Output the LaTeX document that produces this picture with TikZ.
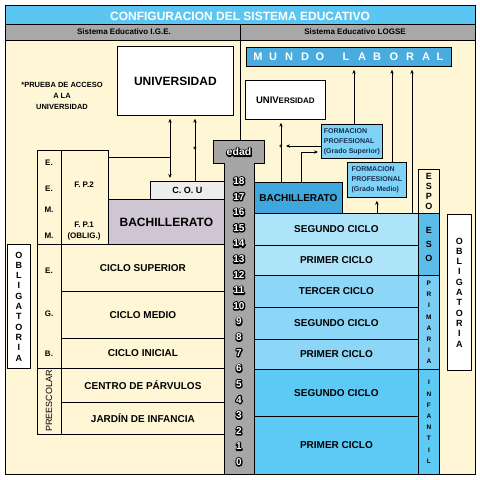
\documentclass[tikz,border=0pt]{standalone}
\usepackage{fontspec}
\setmainfont{Liberation Sans}
\usetikzlibrary{arrows.meta}

\definecolor{titleblue}{HTML}{5CC6F2}
\definecolor{headgray}{HTML}{A8A8A8}
\definecolor{cream}{HTML}{FFF6D5}
\definecolor{edadgray}{HTML}{A6A6A6}
\definecolor{bachgray}{HTML}{CEC6D2}
\definecolor{cougray}{HTML}{EDEDED}
\definecolor{mundoblue}{HTML}{4AABDE}
\definecolor{bachblue}{HTML}{3FA7DB}
\definecolor{fpblue}{HTML}{7FD3F6}
\definecolor{fptext}{HTML}{1A2F55}
\definecolor{esoblue}{HTML}{AEE4FA}
\definecolor{priblue}{HTML}{8CD6F7}
\definecolor{infblue}{HTML}{5DCAF6}
\definecolor{esoside}{HTML}{5DBDE9}
\definecolor{priside}{HTML}{7ACEF3}

% white text with a black outline
\newcommand\outl[1]{\rlap{\special{pdf:literal direct 0 G 0 g 2 Tr 2.6 w 1 j}#1\special{pdf:literal direct 0 Tr}}{\color{white}#1}}

\begin{document}
\begin{tikzpicture}[x=1pt,y=-1pt,
    cell/.style={draw, line width=0.8pt, anchor=north west, inner sep=0pt,
      align=center, font=\bfseries\fontsize{10}{12}\selectfont},
    big/.style={font=\bfseries\fontsize{12}{14}\selectfont},
    sm/.style={font=\bfseries\fontsize{8}{11}\selectfont, inner sep=0pt, align=center},
    vtxt/.style={font=\bfseries\fontsize{9}{10.3}\selectfont},
    tiny/.style={font=\bfseries\fontsize{6.5}{11.2}\selectfont},
    fptxt/.style={font=\bfseries\fontsize{7}{10}\selectfont, text=fptext, align=left},
    num/.style={font=\bfseries\fontsize{10}{12}\selectfont, inner sep=0pt},
    arr/.style={line width=0.6pt, shorten >=3pt, -{Stealth[length=4pt,width=3.4pt]}},
    arrtwo/.style={line width=0.6pt, shorten >=3pt, shorten <=3pt,
      {Stealth[length=4pt,width=3.4pt]}-{Stealth[length=4pt,width=3.4pt]}},
    ln/.style={line width=0.6pt}]
  \useasboundingbox (0,0) rectangle (480,480);

  % frame and headers
  \fill[cream] (5,40) rectangle (475,474);
  \fill[titleblue] (5,5) rectangle (475,24);
  \fill[headgray] (5,24) rectangle (475,40);
  \draw[line width=0.8pt] (5,24) -- (475,24) (5,40) -- (475,40);
  \draw[line width=0.8pt] (240,24) -- (240,140);
  \draw[line width=1pt] (5,5) rectangle (475,474);
  \node[big, text=white] (titulo) at (240,16) {CONFIGURACION DEL SISTEMA EDUCATIVO};
  \node[sm] (ige) at (124,32) {Sistema Educativo I.G.E.};
  \node[sm] (logse) at (355,32) {Sistema Educativo LOGSE};

  % Sistema I.G.E.
  \node[cell, big, fill=white, minimum width=116, minimum height=69] (uniL) at (117,46) {UNIVERSIDAD};
  \node[font=\bfseries\fontsize{7.5}{10.7}\selectfont, align=center] (prueba) at (62,96) {*PRUEBA DE ACCESO\\A LA\\UNIVERSIDAD};

  \node[cell, minimum width=24, minimum height=94] (eemm) at (37,150) {};
  \node[sm] (ee1) at (49,163) {E.};
  \node[sm] (ee2) at (49,189) {E.};
  \node[sm] (mm1) at (49,210) {M.};
  \node[sm] (mm2) at (49,236) {M.};
  \node[cell, minimum width=47, minimum height=94] (fp) at (61,150) {};
  \node[sm] (fp2) at (84,185) {F. P.2};
  \node[sm] (fp1) at (84,231) {F. P.1\\(OBLIG.)};
  \node[cell, big, fill=bachgray, minimum width=116, minimum height=45] (bachL) at (108,199) {BACHILLERATO};
  \node[cell, font=\bfseries\fontsize{9}{11}\selectfont, fill=cougray, minimum width=74, minimum height=18] (cou) at (150,181) {C. O. U};

  \node[cell, minimum width=24, minimum height=124] (egb) at (37,244) {};
  \node[sm] (egbe) at (49,271) {E.};
  \node[sm] (egbg) at (49,314) {G.};
  \node[sm] (egbb) at (49,354) {B.};
  \node[cell, minimum width=163, minimum height=47] (csup) at (61,244) {CICLO SUPERIOR};
  \node[cell, minimum width=163, minimum height=47] (cmed) at (61,291) {CICLO MEDIO};
  \node[cell, minimum width=163, minimum height=30] (cini) at (61,338) {CICLO INICIAL};
  \node[cell, minimum width=24, minimum height=66] (pre) at (37,368) {};
  \node[rotate=90, font=\fontsize{9}{10}\selectfont, inner sep=0pt] (pretxt) at (49,401) {PREESCOLAR};
  \node[cell, minimum width=163, minimum height=34] (cpar) at (61,368) {CENTRO DE PÁRVULOS};
  \node[cell, minimum width=163, minimum height=32] (jard) at (61,402) {JARDÍN DE INFANCIA};
  \node[cell, vtxt, fill=white, minimum width=23, minimum height=124] (oblL) at (7,244) {O\\B\\L\\I\\G\\A\\T\\O\\R\\I\\A};

  \coordinate (jL) at (170,157);
  \draw[arrtwo] (uniL.south -| jL) -- (cou.north -| jL);
  \draw[ln] (fp.east |- jL) -- (jL);
  \node[sm] (starL) at (195,150) {*};
  \draw[arr] (cou.north -| starL) -- (uniL.south -| starL);

  % edad
  \draw[fill=edadgray, line width=0.6pt] (213,140) -- (264,140) -- (264,163) -- (254,163)
    -- (254,474) -- (224,474) -- (224,163) -- (213,163) -- cycle;
  \node[num, font=\bfseries\fontsize{10.5}{12}\selectfont] (edad) at (239,152) {\outl{edad}};
  \foreach \n in {0,...,18}
    \node[num] (e\n) at (239,462-15.61*\n) {\outl{\n}};

  % Sistema LOGSE
  \node[cell, fill=mundoblue, minimum width=205, minimum height=19] (mundo) at (246,47) {};
  \foreach \l/\x in {M/258,U/273,N/289,D/305,O/320,L/346,A/362,B/377,O/394,R/410,A/426,L/440}
    \node[text=white, font=\bfseries\fontsize{11}{12}\selectfont] (ml\x) at (\x,57) {\l};
  \node[cell, font=\bfseries\fontsize{9.5}{11}\selectfont, fill=white, minimum width=80, minimum height=39] (uniR) at (245,80) {UNIV{\fontsize{8}{10}\selectfont ERSIDAD}};
  \node[cell, fptxt, fill=fpblue, minimum width=61, minimum height=34] (fpgs) at (321,124) {FORMACION\\PROFESIONAL\\(Grado Superior)};
  \node[cell, fptxt, fill=fpblue, minimum width=59, minimum height=35] (fpgm) at (347,162) {FORMACION\\PROFESIONAL\\(Grado Medio)};
  \node[cell, fill=bachblue, minimum width=88, minimum height=31] (bachR) at (254,182) {BACHILLERATO};

  \node[cell, fill=esoblue, minimum width=164, minimum height=32] (eso2) at (254,213) {SEGUNDO CICLO};
  \node[cell, fill=esoblue, minimum width=164, minimum height=30] (eso1) at (254,245) {PRIMER CICLO};
  \node[cell, fill=priblue, minimum width=164, minimum height=32] (pri3) at (254,275) {TERCER CICLO};
  \node[cell, fill=priblue, minimum width=164, minimum height=32] (pri2) at (254,307) {SEGUNDO CICLO};
  \node[cell, fill=priblue, minimum width=164, minimum height=30] (pri1) at (254,339) {PRIMER CICLO};
  \node[cell, fill=infblue, minimum width=164, minimum height=47] (inf2) at (254,369) {SEGUNDO CICLO};
  \node[cell, fill=infblue, minimum width=164, minimum height=58] (inf1) at (254,416) {PRIMER CICLO};

  \node[cell, vtxt, fill=cream, minimum width=21, minimum height=44] (espo) at (418,169) {E\\S\\P\\O};
  \node[cell, font=\bfseries\fontsize{9}{14}\selectfont, fill=esoside, minimum width=21, minimum height=62] (esoS) at (418,213) {E\\S\\O};
  \node[cell, tiny, fill=priside, minimum width=21, minimum height=94] (priS) at (418,275) {P\\R\\I\\M\\A\\R\\I\\A};
  \node[cell, tiny, fill=infblue, minimum width=21, minimum height=105] (infS) at (418,369) {I\\N\\F\\A\\N\\T\\I\\L};
  \node[cell, vtxt, fill=white, minimum width=24, minimum height=156] (oblR) at (447,214) {O\\B\\L\\I\\G\\A\\T\\O\\R\\I\\A};

  \coordinate (xa) at (354,0);
  \coordinate (xb) at (392,0);
  \coordinate (xc) at (412,0);
  \draw[arr] (fpgs.north -| xa) -- (mundo.south -| xa);
  \draw[arr] (fpgm.north -| xb) -- (mundo.south -| xb);
  \draw[arr] (eso2.north -| xc) -- (mundo.south -| xc);
  \draw[arr] (eso2.north -| fpgm.south) -- (fpgm.south);

  \coordinate (sR) at (281,146);
  \node[sm] (starR) at (281,148) {*};
  \draw[arr] (bachR.north -| sR) -- (uniR.south -| sR);
  \draw[arr, shorten >=5pt] (fpgs.west |- sR) -- (sR);
  \coordinate (eR) at (301,152);
  \draw[arr] (bachR.north -| eR) |- (fpgs.west |- eR);
\end{tikzpicture}
\end{document}
